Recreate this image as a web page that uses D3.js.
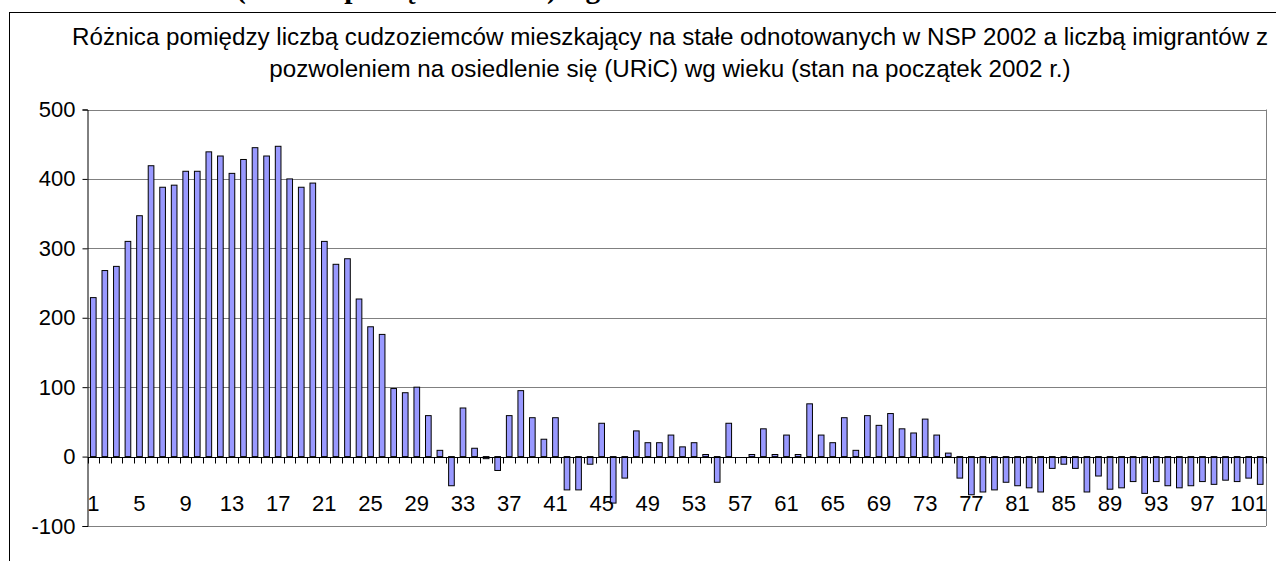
<!DOCTYPE html>
<html>
<head>
<meta charset="utf-8">
<script src="https://cdn.jsdelivr.net/npm/d3@7"></script>
<style>
  body { margin: 0; background: #fff; }
  svg { display: block; font-family: Arial, "Liberation Sans", sans-serif; }
</style>
</head>
<body>
<div id="canvas"></div>
<script>
// ages 1..102
const categories = d3.range(1, 103).map(String);
const values = [229, 268, 274, 310, 347, 419, 388, 391, 411, 411,
  439, 433, 408, 428, 445, 433, 447, 400, 388, 394,
  310, 277, 285, 227, 187, 176, 98, 92, 100, 59,
  9, -42, 70, 12, -3, -20, 59, 95, 56, 25,
  56, -48, -48, -11, 48, -67, -31, 37, 20, 20,
  31, 14, 20, 3, -37, 48, 0, 3, 40, 3,
  31, 3, 76, 31, 20, 56, 9, 59, 45, 62,
  40, 34, 54, 31, 5, -31, -55, -51, -48, -37,
  -42, -45, -51, -17, -11, -17, -51, -28, -47, -45,
  -36, -53, -36, -42, -45, -42, -36, -40, -34, -36,
  -31, -40];
const yTicks = [-100, 0, 100, 200, 300, 400, 500];
const xLabels = categories.filter((d, i) => i % 4 === 0);
const titleLines = [
  "Różnica pomiędzy liczbą cudzoziemców mieszkający na stałe odnotowanych w NSP 2002 a liczbą imigrantów z",
  "pozwoleniem na osiedlenie się (URiC) wg wieku (stan na początek 2002 r.)"
];
const headerText = "(stan na początek 2002 r.) wg wieku";

const W = 1276, H = 561;
const plot = { left: 87.5, right: 1266, top: 109.5, bottom: 526 };

const svg = d3.select("#canvas").append("svg")
  .attr("width", W)
  .attr("height", H);

// heading of the document above the chart, cut off by the page top
svg.append("text")
  .attr("x", 236)
  .attr("y", -2)
  .attr("font-family", "'Liberation Serif', 'Times New Roman', serif")
  .attr("font-weight", "bold")
  .attr("font-size", 29.5)
  .text(headerText);

// outer chart frame
svg.append("rect")
  .attr("x", 9.5)
  .attr("y", 12.5)
  .attr("width", W + 20)
  .attr("height", H + 20)
  .attr("fill", "#fff")
  .attr("stroke", "#000");

const x = d3.scaleBand()
  .domain(categories)
  .range([plot.left, plot.right]);

const y = d3.scaleLinear()
  .domain([-100, 500])
  .range([plot.bottom, plot.top]);

// title
svg.append("g").selectAll("text")
  .data(titleLines)
  .enter().append("text")
  .attr("x", 670)
  .attr("y", (d, i) => 45 + i * 32)
  .attr("text-anchor", "middle")
  .attr("font-size", 24.2)
  .attr("fill", "#000")
  .text(d => d);

// gridlines
svg.append("g").selectAll("line")
  .data(yTicks.filter(d => d !== 0))
  .enter().append("line")
  .attr("x1", plot.left)
  .attr("x2", plot.right)
  .attr("y1", d => Math.round(y(d)) + 0.5)
  .attr("y2", d => Math.round(y(d)) + 0.5)
  .attr("stroke", "#808080");

// plot area right border
svg.append("line")
  .attr("x1", plot.right + 0.5)
  .attr("x2", plot.right + 0.5)
  .attr("y1", plot.top)
  .attr("y2", plot.bottom)
  .attr("stroke", "#808080");

// bars
const barW = x.bandwidth() * 0.49;
svg.append("g").selectAll("rect")
  .data(values)
  .enter().append("rect")
  .attr("x", (d, i) => x(categories[i]) + (x.bandwidth() - barW) / 2)
  .attr("y", d => y(Math.max(0, d)))
  .attr("width", barW)
  .attr("height", d => Math.abs(y(d) - y(0)))
  .attr("fill", "#9999ff")
  .attr("stroke", "#000")
  .attr("stroke-width", 1);

// y axis
const yAxis = svg.append("g")
  .attr("transform", `translate(${plot.left},0)`)
  .call(d3.axisLeft(y).tickValues(yTicks).tickSize(5).tickPadding(7).tickFormat(d => String(d)));
yAxis.select(".domain").attr("stroke", "#000");
yAxis.selectAll("line").attr("stroke", "#000");
yAxis.selectAll("text")
  .attr("font-size", 22)
  .attr("font-family", "Arial, 'Liberation Sans', sans-serif")
  .attr("fill", "#000");

// zero line with category ticks
const zeroY = Math.round(y(0)) + 0.5;
svg.append("line")
  .attr("x1", plot.left)
  .attr("x2", plot.right)
  .attr("y1", zeroY)
  .attr("y2", zeroY)
  .attr("stroke", "#000");

svg.append("g").selectAll("line")
  .data(categories.concat(["end"]))
  .enter().append("line")
  .attr("x1", d => (d === "end" ? plot.right : Math.round(x(d))) + 0.5)
  .attr("x2", d => (d === "end" ? plot.right : Math.round(x(d))) + 0.5)
  .attr("y1", zeroY)
  .attr("y2", zeroY + 6)
  .attr("stroke", "#000");

// x labels
svg.append("g").selectAll("text")
  .data(xLabels)
  .enter().append("text")
  .attr("x", d => x(d) + x.bandwidth() / 2)
  .attr("y", zeroY + 46)
  .attr("dy", "0.35em")
  .attr("text-anchor", "middle")
  .attr("font-size", 22)
  .attr("fill", "#000")
  .text(d => d);
</script>
</body>
</html>
